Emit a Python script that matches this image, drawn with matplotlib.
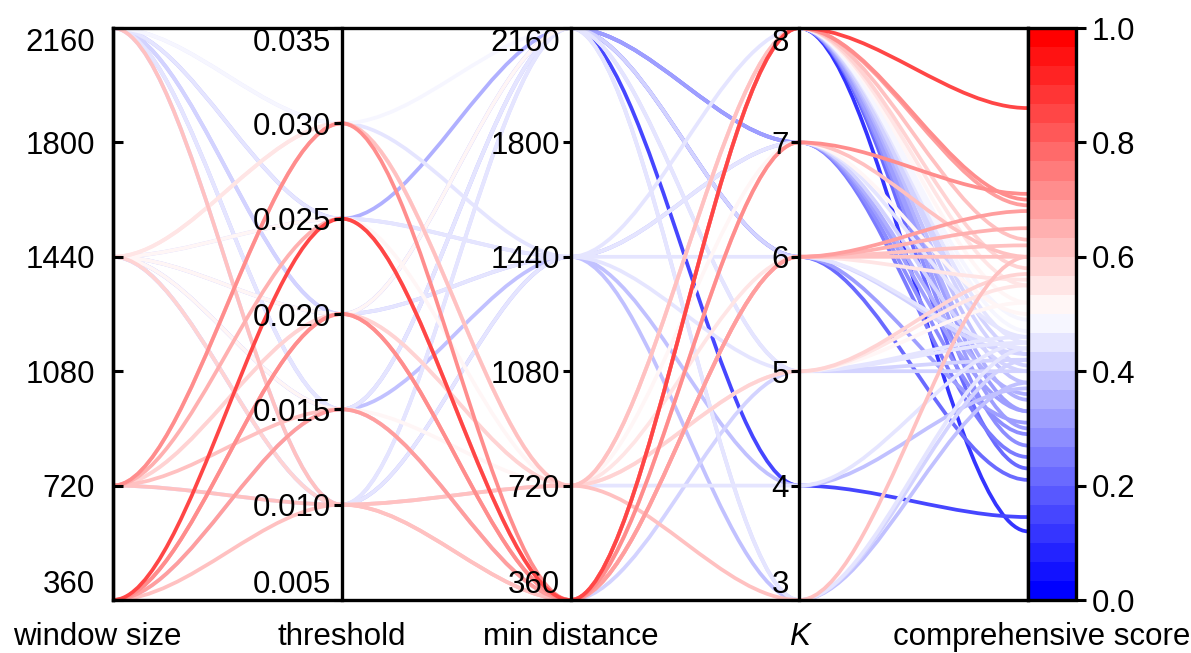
import numpy as np
import matplotlib.pyplot as plt
import matplotlib.patches as patches
from matplotlib.path import Path
from matplotlib import transforms
from matplotlib.cm import ScalarMappable
from matplotlib.colors import Normalize

plt.rcParams['font.family'] = ['Liberation Sans', 'DejaVu Sans']
plt.rcParams['font.size'] = 22.5

# one entry per trial
window_size = [360, 360, 360, 720, 720, 1440, 1440, 2160, 2160, 2160,
               1440, 2160, 2160, 2160, 2160, 2160, 2160, 2160, 2160,
               720, 2160, 2160, 1440, 720, 2160, 1440, 2160, 1440,
               360, 720, 360, 1440, 1440, 2160, 2160, 2160, 2160,
               720, 360, 1440, 2160, 1440, 720, 1440,
               2160, 1440, 720,
               720, 2160, 1440, 2160]
threshold = [0.025, 0.020, 0.015, 0.010, 0.020, 0.030, 0.020, 0.035, 0.025, 0.030,
             0.015, 0.010, 0.020, 0.025, 0.035, 0.035, 0.035, 0.035, 0.035,
             0.030, 0.035, 0.035, 0.025, 0.015, 0.035, 0.010, 0.030, 0.015,
             0.020, 0.025, 0.010, 0.030, 0.020, 0.015, 0.035, 0.035, 0.010,
             0.020, 0.015, 0.025, 0.020, 0.010, 0.010, 0.010,
             0.035, 0.020, 0.010,
             0.030, 0.015, 0.015, 0.015]
min_distance = [360, 360, 360, 720, 720, 720, 2160, 2160, 1440, 2160,
                2160, 2160, 2160, 2160, 2160, 2160, 2160, 2160, 2160,
                360, 2160, 2160, 1440, 360, 2160, 1440, 1440, 720,
                360, 360, 360, 720, 1440, 2160, 2160, 2160, 360,
                720, 360, 720, 2160, 1440, 2160, 720,
                2160, 1440, 720,
                720, 2160, 1440, 2160]
k_value = [8, 8, 8, 8, 8, 8, 8, 8, 8, 8,
           8, 8, 8, 8, 8, 8, 8, 8, 8,
           7, 7, 7, 7, 7, 7, 7, 7, 7,
           6, 6, 6, 6, 6, 6, 6, 6, 6,
           5, 5, 5, 5, 5, 5, 5,
           4, 4, 4,
           3, 3, 3, 3]
score = [0.86, 0.70, 0.69, 0.63, 0.58, 0.55, 0.52, 0.49, 0.45, 0.47,
         0.43, 0.41, 0.38, 0.35, 0.33, 0.30, 0.27, 0.12, 0.23,
         0.71, 0.29, 0.25, 0.40, 0.60, 0.33, 0.36, 0.46, 0.50,
         0.68, 0.65, 0.60, 0.56, 0.44, 0.43, 0.21, 0.31, 0.62,
         0.55, 0.42, 0.52, 0.40, 0.46, 0.45, 0.57,
         0.145, 0.37, 0.45,
         0.60, 0.44, 0.38, 0.42]

names = ['window size', 'threshold', 'min distance', 'K', 'comprehensive score']
window_ticks = [360, 720, 1080, 1440, 1800, 2160]
threshold_ticks = [0.005, 0.010, 0.015, 0.020, 0.025, 0.030, 0.035]
distance_ticks = [360, 720, 1080, 1440, 1800, 2160]
k_ticks = [3, 4, 5, 6, 7, 8]
score_ticks = [0.0, 0.2, 0.4, 0.6, 0.8, 1.0]

ymins = np.array([360, 0.005, 360, 3, 0.0])
ymaxs = np.array([2160, 0.035, 2160, 8, 1.0])

ys = np.column_stack([window_size, threshold, min_distance, k_value, score])
zs = (ys - ymins) / (ymaxs - ymins)

cmap = plt.get_cmap('bwr', 30)

fig = plt.figure(figsize=(11.91, 6.53), dpi=100)
left, bottom = 113 / 1191, 1 - 600 / 653
width, height = (1028 - 113) / 1191, 572 / 653
host = fig.add_axes([left, bottom, width, height])
host.set_xlim(0, 4)
host.set_ylim(0, 1)
host.set_yticks([])
host.set_xticks(range(5))
host.set_xticklabels(names)
host.tick_params(axis='x', length=0, pad=16)
for sp in host.spines.values():
    sp.set_linewidth(2.4)

xlabels = host.get_xticklabels()
xlabels[3].set_fontstyle('italic')
xlabels[0].set_transform(xlabels[0].get_transform() +
                         transforms.ScaledTranslation(-0.16, 0, fig.dpi_scale_trans))
xlabels[4].set_transform(xlabels[4].get_transform() +
                         transforms.ScaledTranslation(0.14, 0, fig.dpi_scale_trans))

axis_ticks = [window_ticks, threshold_ticks, distance_ticks, k_ticks]
axis_fmt = ['{:.0f}', '{:.3f}', '{:.0f}', '{:.0f}']
for i in range(4):
    ax = host.twinx()
    ax.set_ylim(ymins[i], ymaxs[i])
    ax.yaxis.tick_left()
    for s in ['top', 'bottom', 'right']:
        ax.spines[s].set_visible(False)
    ax.spines['left'].set_position(('axes', i / 4))
    ax.spines['left'].set_linewidth(2.4)
    ax.set_yticks(axis_ticks[i])
    ax.set_yticklabels([axis_fmt[i].format(v) for v in axis_ticks[i]])
    if i == 0:
        ax.tick_params(axis='y', direction='in', length=7, width=2.2, pad=13)
    else:
        ax.tick_params(axis='y', direction='out', length=6, width=2.2, pad=1.5)
    lbls = ax.get_yticklabels()
    lbls[0].set_va('bottom')
    lbls[-1].set_va('top')

# bezier curves between the axes
for j in np.argsort(score):
    verts = list(zip(np.linspace(0, 4, 13), np.repeat(zs[j], 3)[1:-1]))
    codes = [Path.MOVETO] + [Path.CURVE4] * 12
    patch = patches.PathPatch(Path(verts, codes), facecolor='none', lw=2.7,
                              edgecolor=cmap(score[j]))
    host.add_patch(patch)

cax = fig.add_axes([1028 / 1191, bottom, 48 / 1191, height])
cb = fig.colorbar(ScalarMappable(Normalize(0, 1), cmap), cax=cax, ticks=score_ticks)
cb.ax.set_yticklabels(['{:.1f}'.format(v) for v in score_ticks])
cb.outline.set_linewidth(2.4)
cb.ax.tick_params(length=7, width=2.2, pad=4)

plt.savefig('out.png', dpi=100)
